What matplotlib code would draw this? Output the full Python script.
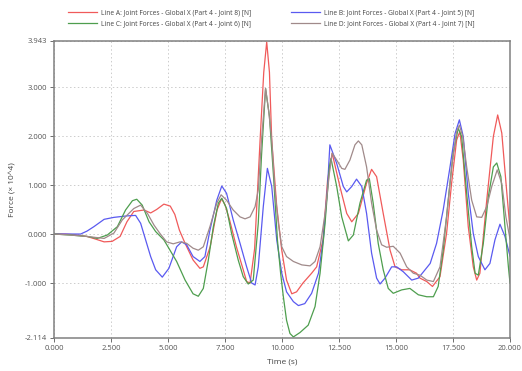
import numpy as np
import matplotlib
matplotlib.use('Agg')
import matplotlib.pyplot as plt

plt.rcParams['font.family'] = ['Open Sans', 'DejaVu Sans']

# Line A: Joint 8 (red)
t_a = [0, 0.5, 1.0, 1.45, 1.8, 2.2, 2.55, 2.9, 3.2, 3.5, 3.95, 4.24, 4.5, 4.82, 5.1, 5.3,
       5.5, 5.75, 6.1, 6.4, 6.55, 6.85, 7.15, 7.35, 7.5, 7.7, 8.0, 8.3, 8.45, 8.6, 8.8,
       9.04, 9.2, 9.33, 9.45, 9.55, 9.77, 9.99, 10.2, 10.43, 10.64, 10.92, 11.3, 11.52,
       11.8, 12.0, 12.2, 12.54, 12.84, 13.06, 13.35, 13.71, 13.93, 14.15, 14.44, 14.74,
       14.96, 15.25, 15.6, 15.9, 16.05, 16.35, 16.6, 16.93, 17.22, 17.44, 17.66, 17.8,
       17.95, 18.17, 18.39, 18.54, 18.68, 18.98, 19.27, 19.46, 19.64, 19.85, 20.0]
f_a = [0, 0.0, -0.02, -0.05, -0.1, -0.16, -0.15, -0.05, 0.25, 0.46, 0.49, 0.43, 0.5, 0.61,
       0.57, 0.4, 0.08, -0.19, -0.53, -0.7, -0.67, -0.26, 0.49, 0.72, 0.6, 0.29, -0.26,
       -0.73, -0.97, -1.0, -0.3, 1.92, 3.3, 3.92, 3.3, 1.92, 0.56, -0.33, -0.94, -1.22,
       -1.18, -1.0, -0.8, -0.67, -0.12, 1.1, 1.65, 0.97, 0.42, 0.25, 0.42, 1.04, 1.32,
       1.17, 0.42, -0.33, -0.67, -0.73, -0.73, -0.8, -0.9, -0.97, -1.07, -0.87, 0.02,
       1.04, 1.92, 2.09, 1.51, 0.15, -0.67, -0.94, -0.8, 0.69, 1.99, 2.43, 2.06, 0.9, 0.1]

# Line B: Joint 5 (blue)
t_b = [0, 0.6, 1.17, 1.45, 1.75, 2.2, 2.63, 3.2, 3.58, 3.8, 4.02, 4.24, 4.46, 4.75, 5.04,
       5.38, 5.6, 5.82, 6.1, 6.4, 6.62, 6.84, 7.14, 7.36, 7.57, 7.86, 8.16, 8.45, 8.67,
       8.82, 8.96, 9.18, 9.36, 9.55, 9.77, 9.99, 10.2, 10.5, 10.72, 11.0, 11.3, 11.6,
       11.81, 11.99, 12.1, 12.4, 12.69, 12.84, 13.06, 13.27, 13.5, 13.71, 13.93, 14.15,
       14.3, 14.52, 14.81, 15.03, 15.32, 15.69, 15.98, 16.5, 16.78, 17.07, 17.37, 17.59,
       17.78, 17.95, 18.17, 18.39, 18.61, 18.9, 19.12, 19.34, 19.56, 19.78, 20.0]
f_b = [0, 0.0, 0.0, 0.06, 0.15, 0.3, 0.34, 0.37, 0.38, 0.22, -0.12, -0.46, -0.73, -0.88,
       -0.7, -0.26, -0.16, -0.22, -0.46, -0.56, -0.46, 0.08, 0.69, 0.98, 0.83, 0.29, -0.19,
       -0.67, -1.0, -1.04, -0.67, 0.56, 1.34, 0.97, -0.12, -0.8, -1.18, -1.38, -1.46,
       -1.42, -1.21, -0.8, -0.12, 0.9, 1.82, 1.44, 0.97, 0.86, 0.97, 1.12, 0.97, 0.42,
       -0.39, -0.9, -1.02, -0.9, -0.67, -0.67, -0.77, -0.94, -0.9, -0.6, -0.19, 0.49, 1.37,
       2.05, 2.33, 1.99, 0.83, 0.01, -0.46, -0.73, -0.6, -0.12, 0.2, -0.05, -0.45]

# Line C: Joint 6 (green)
t_c = [0, 0.7, 1.46, 1.9, 2.34, 2.78, 3.14, 3.44, 3.63, 3.87, 4.17, 4.46, 4.82, 5.0, 5.38,
       5.75, 6.1, 6.33, 6.55, 6.77, 6.99, 7.21, 7.36, 7.57, 7.79, 8.08, 8.3, 8.52, 8.74,
       8.96, 9.1, 9.28, 9.45, 9.62, 9.8, 9.94, 10.06, 10.2, 10.35, 10.5, 10.79, 11.15,
       11.45, 11.67, 11.89, 12.08, 12.15, 12.4, 12.62, 12.91, 13.13, 13.42, 13.71, 13.83,
       14.0, 14.22, 14.44, 14.66, 14.88, 15.25, 15.61, 15.98, 16.35, 16.64, 16.85, 17.07,
       17.29, 17.51, 17.73, 17.88, 18.1, 18.32, 18.47, 18.61, 18.83, 19.05, 19.27, 19.42,
       19.6, 19.78, 19.93, 20.0]
f_c = [0, -0.02, -0.05, -0.09, -0.02, 0.15, 0.49, 0.68, 0.71, 0.59, 0.25, 0.05, -0.12,
       -0.26, -0.56, -0.94, -1.22, -1.27, -1.11, -0.53, 0.15, 0.63, 0.73, 0.52, 0.01, -0.53,
       -0.87, -1.02, -0.94, 0.22, 1.58, 2.97, 2.4, 1.24, -0.12, -0.8, -1.28, -1.76, -2.03,
       -2.1, -2.01, -1.86, -1.48, -0.8, 0.22, 1.37, 1.54, 0.97, 0.35, -0.14, -0.02, 0.63,
       1.1, 1.13, 0.63, -0.19, -0.73, -1.11, -1.21, -1.14, -1.11, -1.24, -1.28, -1.28,
       -1.07, -0.33, 0.69, 1.65, 2.16, 1.99, 0.83, -0.26, -0.8, -0.84, -0.19, 0.76, 1.37,
       1.45, 1.17, 0.15, -0.67, -1.0]

# Line D: Joint 7 (grey-brown)
t_d = [0, 0.7, 1.46, 2.2, 2.63, 3.0, 3.5, 3.8, 4.1, 4.39, 4.65, 4.94, 5.23, 5.53, 5.82,
       6.1, 6.33, 6.55, 6.84, 7.14, 7.33, 7.57, 7.86, 8.16, 8.38, 8.6, 8.82, 8.96, 9.1,
       9.28, 9.42, 9.55, 9.69, 9.84, 9.99, 10.2, 10.5, 10.87, 11.23, 11.45, 11.67, 11.89,
       12.08, 12.2, 12.4, 12.62, 12.76, 12.98, 13.2, 13.35, 13.5, 13.71, 13.93, 14.15,
       14.37, 14.59, 14.88, 15.18, 15.47, 15.76, 16.05, 16.35, 16.64, 16.93, 17.22, 17.44,
       17.66, 17.78, 17.93, 18.1, 18.32, 18.54, 18.76, 18.98, 19.2, 19.44, 19.64, 19.82, 20.0]
f_d = [0, -0.02, -0.05, -0.09, 0.02, 0.29, 0.52, 0.59, 0.42, 0.18, 0.01, -0.16, -0.2,
       -0.16, -0.19, -0.29, -0.33, -0.26, 0.15, 0.63, 0.8, 0.69, 0.49, 0.35, 0.31, 0.35,
       0.56, 0.9, 1.9, 2.97, 2.5, 1.92, 0.9, 0.22, -0.26, -0.46, -0.56, -0.63, -0.65,
       -0.56, -0.26, 0.42, 1.24, 1.65, 1.51, 1.34, 1.32, 1.51, 1.82, 1.9, 1.82, 1.37, 0.63,
       0.08, -0.22, -0.27, -0.25, -0.39, -0.67, -0.8, -0.84, -0.94, -0.97, -0.67, 0.35,
       1.37, 2.09, 2.22, 1.99, 1.37, 0.69, 0.35, 0.34, 0.56, 0.97, 1.31, 1.03, 0.35, -0.1]

labels = ['Line A: Joint Forces - Global X (Part 4 - Joint 8) [N]',
          'Line B: Joint Forces - Global X (Part 4 - Joint 5) [N]',
          'Line C: Joint Forces - Global X (Part 4 - Joint 6) [N]',
          'Line D: Joint Forces - Global X (Part 4 - Joint 7) [N]']
colors = ['#f05a5a', '#5a5af0', '#4e9e4e', '#a08a8a']

x_ticks = [0, 2.5, 5, 7.5, 10, 12.5, 15, 17.5, 20]
y_ticks = [-2.114, -1, 0, 1, 2, 3, 3.943]

fig = plt.figure(figsize=(5.22, 3.71), dpi=100)
ax = fig.add_axes([0.1034, 0.09, 0.8736, 0.80])

series = [(t_a, f_a), (t_b, f_b), (t_c, f_c), (t_d, f_d)]
handles = []
for (t, f), lab, col in zip(series, labels, colors):
    h, = ax.plot(t, f, color=col, lw=0.9, label=lab)
    handles.append(h)

ax.set_xlim(0, 20)
ax.set_ylim(-2.114, 3.943)
ax.set_xticks(x_ticks)
ax.set_yticks(y_ticks)
ax.set_xticklabels(['%.3f' % v for v in x_ticks])
ax.set_yticklabels(['%.3f' % v for v in y_ticks])
ax.tick_params(labelsize=5.5, colors='#555555', length=3, width=0.6, pad=2)
ax.grid(True, color='#cccccc', linestyle=(0, (1.5, 2.5)), linewidth=0.7)
for s in ax.spines.values():
    s.set_color('#808080')
    s.set_linewidth(1.1)

ax.set_xlabel('Time (s)', fontsize=6, color='#444444', labelpad=5)
ax.set_ylabel('Force (× 10^4)', fontsize=6, color='#444444', labelpad=6)

# legend: two columns, A/B on top row, C/D below
order = [0, 2, 1, 3]
fig.legend([handles[i] for i in order], [labels[i] for i in order],
           loc='upper center', bbox_to_anchor=(0.52, 0.99), ncol=2, frameon=False,
           fontsize=4.8, handlelength=4.3, columnspacing=6, labelspacing=0.55,
           handletextpad=0.6, labelcolor='#444444')

fig.savefig('out.png', dpi=100)
